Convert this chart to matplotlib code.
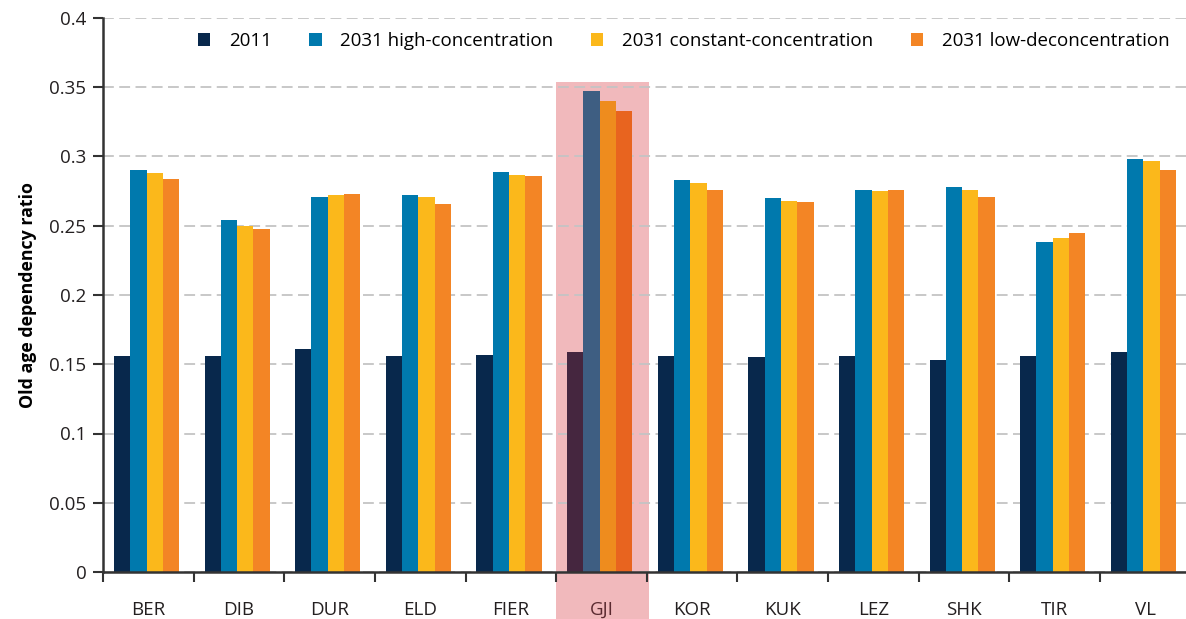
import numpy as np
import matplotlib
matplotlib.use("Agg")
import matplotlib.pyplot as plt
from matplotlib.patches import Rectangle

plt.rcParams['font.family'] = ['Open Sans', 'DejaVu Sans']

regions = ['BER', 'DIB', 'DUR', 'ELD', 'FIER', 'GJI', 'KOR', 'KUK', 'LEZ', 'SHK', 'TIR', 'VL']
series = ['2011', '2031 high-concentration', '2031 constant-concentration', '2031 low-deconcentration']

v2011 = [0.156, 0.156, 0.161, 0.156, 0.157, 0.159, 0.156, 0.155, 0.156, 0.153, 0.156, 0.159]
v_high = [0.290, 0.254, 0.271, 0.272, 0.289, 0.347, 0.283, 0.270, 0.276, 0.278, 0.238, 0.298]
v_const = [0.288, 0.250, 0.272, 0.271, 0.287, 0.340, 0.281, 0.268, 0.275, 0.276, 0.241, 0.297]
v_low = [0.284, 0.248, 0.273, 0.266, 0.286, 0.333, 0.276, 0.267, 0.276, 0.271, 0.245, 0.290]

colors = ['#08284c', '#0079ad', '#fbb81b', '#f38525']
# tinted colours for the highlighted region
hl_colors = ['#45263f', '#3e5e82', '#ee8c1e', '#e8641f']
hl_region = 'GJI'

values = [v2011, v_high, v_const, v_low]

fig = plt.figure(figsize=(11.86, 6.19), dpi=100)
ax = fig.add_axes([103/1186, 47/619, 1083/1186, 554/619])

x = np.arange(len(regions))
w = 0.18
hi = regions.index(hl_region)

ax.add_patch(Rectangle((hi - 0.5, -0.05), 1.02, 0.404, facecolor='#f1b9bc',
                       edgecolor='none', zorder=0.2, clip_on=False))

for i, (name, vals) in enumerate(zip(series, values)):
    cols = [hl_colors[i] if r == hl_region else colors[i] for r in regions]
    ax.bar(x + (i - 1.5) * w - 0.02, vals, width=w, color=cols, label=name, zorder=2)

ax.set_xlim(-0.5, 11.45)
ax.set_ylim(0, 0.4)
ax.set_yticks(np.arange(0, 0.41, 0.05))
ax.set_yticklabels(['0', '0.05', '0.1', '0.15', '0.2', '0.25', '0.3', '0.35', '0.4'])
ax.set_xticks(x)
ax.set_xticklabels(regions)
ax.set_xticks(np.arange(-0.5, 11.0, 1.0), minor=True)
ax.tick_params(axis='x', which='major', length=0, pad=21, labelsize=13.5, colors='#231f20')
ax.tick_params(axis='x', which='minor', length=7, width=1.5, color='#333333')
ax.tick_params(axis='y', length=7, width=1.5, color='#333333', labelsize=13.5,
               labelcolor='#231f20', pad=5)
ax.get_xticklabels()[hi].set_color('#5a2a30')

ax.yaxis.grid(True, linestyle=(0, (6, 3)), color='#c4c4c4', linewidth=1.3)
ax.set_axisbelow(True)
for s in ['top', 'right']:
    ax.spines[s].set_visible(False)
for s in ['left', 'bottom']:
    ax.spines[s].set_linewidth(1.8)
    ax.spines[s].set_color('#333333')

ax.set_ylabel('Old age dependency ratio', fontsize=12.8, fontweight='bold', labelpad=9)

leg = ax.legend(loc='upper right', ncol=4, frameon=False, fontsize=13.5,
                handlelength=0.65, handleheight=0.65, columnspacing=2.0,
                handletextpad=1.0, bbox_to_anchor=(1.0, 1.005))

fig.savefig('out.png', dpi=100)
